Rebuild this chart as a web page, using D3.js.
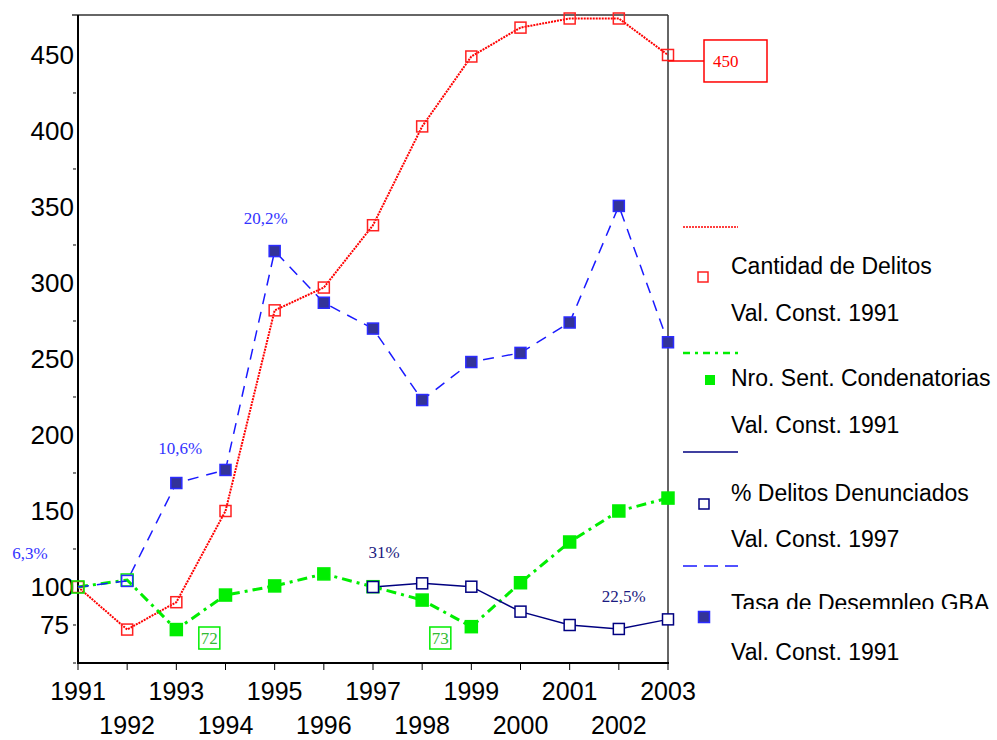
<!DOCTYPE html>
<html>
<head>
<meta charset="utf-8">
<script src="https://cdn.jsdelivr.net/npm/d3@7"></script>
<style>
  body { margin: 0; background: #fff; }
  svg { display: block; }
</style>
</head>
<body>
<div id="chart"></div>
<script>
// Data
var years = [1991, 1992, 1993, 1994, 1995, 1996, 1997, 1998, 1999, 2000, 2001, 2002, 2003];
var delitos = [100, 72, 90, 150, 282, 297, 338, 403, 449, 468, 474, 474, 450];
var condenas = [100, 104.6, 72, 94.7, 100.7, 108.6, 100.2, 91.4, 73.9, 102.8, 129.6, 150, 158.5];
var denunciados = [null, null, null, null, null, null, 100, 102.4, 100.2, 83.8, 75, 72.4, 78.7];
var desempleo = [100, 104, 168.4, 177, 321, 287, 270, 223, 248, 254, 274, 350.7, 261];
var yTicks = [75, 100, 150, 200, 250, 300, 350, 400, 450];
var yMinor = [50, 75, 125, 175, 225, 275, 325, 375, 425];
var legendLabels = [
  ["Cantidad de Delitos", "Val. Const. 1991"],
  ["Nro. Sent. Condenatorias", "Val. Const. 1991"],
  ["Tasa de Desempleo GBA", "Val. Const. 1991"],
  ["% Delitos Denunciados", "Val. Const. 1997"]
];

var width = 997, height = 740;

var svg = d3.select("#chart").append("svg")
  .attr("width", width)
  .attr("height", height);

var x = d3.scaleLinear().domain([1991, 2003]).range([78, 668]);
var y = d3.scaleLinear().domain([50, 476.3]).range([663, 15]);

// Frame: top and right border
svg.append("line").attr("x1", 72).attr("x2", 668).attr("y1", 15).attr("y2", 15)
  .attr("stroke", "#333").attr("stroke-width", 1.5);
svg.append("line").attr("x1", 668).attr("x2", 668).attr("y1", 15).attr("y2", 663)
  .attr("stroke", "#333").attr("stroke-width", 1.5);

// Y axis
var yAxis = svg.append("g");
yAxis.append("line").attr("x1", 78).attr("x2", 78).attr("y1", 15).attr("y2", 664)
  .attr("stroke", "#000").attr("stroke-width", 2);
yAxis.selectAll(".minor").data(yMinor).enter().append("line")
  .attr("x1", 73).attr("x2", 76)
  .attr("y1", function(d){ return y(d); }).attr("y2", function(d){ return y(d); })
  .attr("stroke", "#000").attr("stroke-width", 1);
yAxis.selectAll("text").data(yTicks).enter().append("text")
  .attr("x", function(d){ return d === 75 ? 69 : 74; })
  .attr("y", function(d){ return y(d) + 9; })
  .attr("text-anchor", "end")
  .style("font-family", "Arial, 'Liberation Sans', sans-serif")
  .style("font-size", "26px")
  .text(function(d){ return d; });

// X axis
var xAxis = svg.append("g");
xAxis.append("line").attr("x1", 77).attr("x2", 669).attr("y1", 663).attr("y2", 663)
  .attr("stroke", "#000").attr("stroke-width", 2);
xAxis.selectAll(".tick").data(years).enter().append("line")
  .attr("x1", function(d){ return x(d); }).attr("x2", function(d){ return x(d); })
  .attr("y1", 663).attr("y2", 670)
  .attr("stroke", "#000").attr("stroke-width", 1);
xAxis.selectAll("text").data(years).enter().append("text")
  .attr("x", function(d){ return x(d); })
  .attr("y", function(d){ return d % 2 ? 700 : 734; })
  .attr("text-anchor", "middle")
  .style("font-family", "Arial, 'Liberation Sans', sans-serif")
  .style("font-size", "25px")
  .text(function(d){ return d; });

// Series styles
var series = [
  { values: delitos, color: "#ff0000", width: 2, dash: "2,1", mfill: "none", mstroke: "#ff2020", size: 11 },
  { values: condenas, color: "#00ee00", width: 3, dash: "10,5,3,5", mfill: "#00ee00", mstroke: "#00ee00", size: 12 },
  { values: desempleo, color: "#1a1aff", width: 1.5, dash: "11,8", mfill: "#333399", mstroke: "#2b2bff", size: 11 },
  { values: denunciados, color: "#000080", width: 1.5, dash: null, mfill: "#fff", mstroke: "#000080", size: 11 }
];

var line = d3.line()
  .defined(function(d){ return d != null; })
  .x(function(d, i){ return x(years[i]); })
  .y(function(d){ return y(d); });

series.forEach(function(s) {
  svg.append("path")
    .datum(s.values)
    .attr("d", line)
    .attr("fill", "none")
    .attr("stroke", s.color)
    .attr("stroke-width", s.width)
    .attr("stroke-dasharray", s.dash);
});

// Markers (first two points of condenas / desempleo are drawn hollow)
series.forEach(function(s, k) {
  var pts = s.values.map(function(v, i){ return { v: v, i: i }; })
    .filter(function(d){ return d.v != null; })
    .filter(function(d){ return !(k === 2 && d.i === 0); });
  svg.selectAll(".m" + k).data(pts).enter().append("rect")
    .attr("x", function(d){ return x(years[d.i]) - s.size / 2; })
    .attr("y", function(d){ return y(d.v) - s.size / 2; })
    .attr("width", s.size).attr("height", s.size)
    .attr("fill", function(d){ return (k === 1 || k === 2) && d.i < 2 ? "none" : s.mfill; })
    .attr("stroke", s.mstroke)
    .attr("stroke-width", 1.5);
});

// Percent annotations
var notes = [
  { year: 1991, value: desempleo[0], text: "6,3%", dx: -48, dy: -34, color: "#3333ff" },
  { year: 1993, value: desempleo[2], text: "10,6%", dx: 4, dy: -35, color: "#3333ff" },
  { year: 1995, value: desempleo[4], text: "20,2%", dx: -9, dy: -33, color: "#3333ff" },
  { year: 1997, value: denunciados[6], text: "31%", dx: 11, dy: -35, color: "#1a1a80" },
  { year: 2002, value: denunciados[11], text: "22,5%", dx: 5, dy: -33, color: "#1a1a80" }
];
svg.selectAll(".note").data(notes).enter().append("text")
  .attr("x", function(d){ return x(d.year) + d.dx; })
  .attr("y", function(d){ return y(d.value) + d.dy + 6; })
  .attr("text-anchor", "middle")
  .attr("fill", function(d){ return d.color; })
  .style("font-family", "'Liberation Serif', 'Times New Roman', serif")
  .style("font-size", "17px")
  .text(function(d){ return d.text; });

// Boxed value labels on condenas
var boxes = [
  { year: 1993, value: condenas[2], text: "72", dx: 33 },
  { year: 1999, value: condenas[8], text: "73", dx: -31 }
];
var bx = svg.selectAll(".box").data(boxes).enter().append("g");
bx.append("rect")
  .attr("x", function(d){ return x(d.year) + d.dx - 10.5; })
  .attr("y", 627).attr("width", 21).attr("height", 22)
  .attr("fill", "#fff").attr("stroke", "#00ee00").attr("stroke-width", 1.5);
bx.append("text")
  .attr("x", function(d){ return x(d.year) + d.dx; })
  .attr("y", 644)
  .attr("text-anchor", "middle")
  .attr("fill", "#33bb33")
  .style("font-family", "'Liberation Serif', 'Times New Roman', serif")
  .style("font-size", "17px")
  .text(function(d){ return d.text; });

// Last value callout
var lastY = y(delitos[12]) + 6;
svg.append("line").attr("x1", x(2003)).attr("x2", 704).attr("y1", lastY).attr("y2", lastY)
  .attr("stroke", "#ff0000").attr("stroke-width", 1.5);
svg.append("rect").attr("x", 704).attr("y", lastY - 21).attr("width", 63).attr("height", 42)
  .attr("fill", "#fff").attr("stroke", "#ff0000").attr("stroke-width", 1.5);
svg.append("text").attr("x", 713).attr("y", lastY + 6)
  .attr("fill", "#ff0000")
  .style("font-family", "'Liberation Serif', 'Times New Roman', serif")
  .style("font-size", "17px")
  .text(delitos[12]);

// Legend (indexed like series)
var legendLineY = [227, 353, 566, 452];
var legendTextY = [[274, 321], [386, 433], [611, 660], [501, 547]];
var markerPos = [[703, 277], [710, 380], [704, 617], [704, 504]];
var legendSize = [10, 10, 11, 10];
var legendDash = ["2,1", "7,5,3,5", "14,7", null];

svg.append("clipPath").attr("id", "legclip")
  .append("rect").attr("x", 670).attr("y", 560).attr("width", 327).attr("height", 49);

series.forEach(function(s, k) {
  var g = svg.append("g");
  g.append("line")
    .attr("x1", 683).attr("x2", 738)
    .attr("y1", legendLineY[k]).attr("y2", legendLineY[k])
    .attr("stroke", s.color)
    .attr("stroke-width", k === 1 ? 2.5 : 1.5)
    .attr("stroke-dasharray", legendDash[k]);
  g.append("rect")
    .attr("x", markerPos[k][0] - legendSize[k] / 2)
    .attr("y", markerPos[k][1] - legendSize[k] / 2)
    .attr("width", legendSize[k]).attr("height", legendSize[k])
    .attr("fill", s.mfill === "none" ? "#fff" : s.mfill)
    .attr("stroke", k === 1 ? "none" : s.mstroke)
    .attr("stroke-width", 1.5);
  g.selectAll("text").data(legendLabels[k]).enter().append("text")
    .attr("x", 731)
    .attr("y", function(d, j){ return legendTextY[k][j]; })
    .attr("clip-path", function(d, j){ return k === 2 && j === 0 ? "url(#legclip)" : null; })
    .style("font-family", "Arial, 'Liberation Sans', sans-serif")
    .style("font-size", "23px")
    .text(function(d){ return d; });
});
</script>
</body>
</html>
